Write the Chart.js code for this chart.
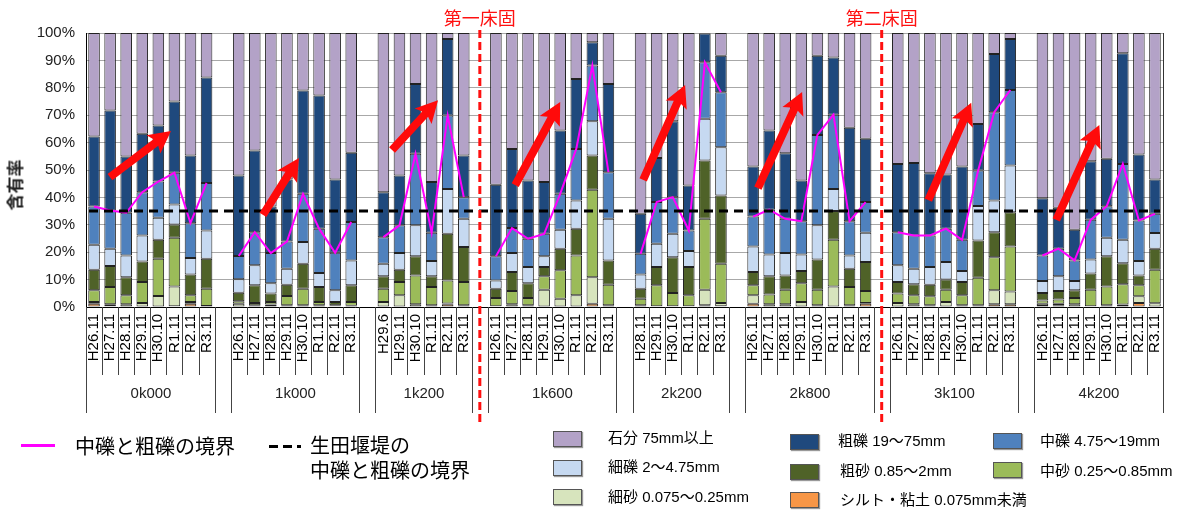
<!DOCTYPE html>
<html><head><meta charset="utf-8">
<script src="https://cdn.jsdelivr.net/npm/chart.js@4.4.1/dist/chart.umd.min.js"></script>
<style>
body{margin:0;background:#fff;}
#wrap{position:relative;width:1191px;height:517px;overflow:hidden;font-family:'Liberation Sans','Noto Sans CJK JP',sans-serif;}
#c{position:absolute;left:0;top:0;}
.t{position:absolute;white-space:nowrap;color:#000;line-height:1;}
.big{font-family:'Noto Sans CJK JP',sans-serif;font-size:20px;}
.sm{font-size:15px;}
.box{position:absolute;width:27px;height:14px;border:1px solid #555;box-shadow:1px 1px 1px #999;}
#ytitle{position:absolute;left:14px;top:185px;transform:translate(-50%,-50%) rotate(-90deg);font-family:'Noto Sans CJK JP',sans-serif;font-size:17px;font-weight:bold;color:#222;white-space:nowrap;}
</style></head><body>
<div id="wrap">
<canvas id="c" width="1191" height="517"></canvas>
<div id="ytitle">含有率</div>
<div style="position:absolute;left:21px;top:444px;width:34px;height:3px;background:#FF00FF"></div>
<div class="t big" style="left:75px;top:436px">中礫と粗礫の境界</div>
<div style="position:absolute;left:269px;top:445px;width:9px;height:3px;background:#000"></div>
<div style="position:absolute;left:283px;top:445px;width:9px;height:3px;background:#000"></div>
<div style="position:absolute;left:297px;top:445px;width:4px;height:3px;background:#000"></div>
<div class="t big" style="left:310px;top:435px">生田堰堤の</div>
<div class="t big" style="left:310px;top:460px">中礫と粗礫の境界</div>
<div id="legend"></div>
</div>
<script>
// ---- categories ----
const groupNames = ['0k000','1k000','1k200','1k600','2k200','2k800','3k100','4k200'];
const surveyDates = [
  ['H26.11','H27.11','H28.11','H29.11','H30.10','R1.11','R2.11','R3.11'],
  ['H26.11','H27.11','H28.11','H29.11','H30.10','R1.11','R2.11','R3.11'],
  ['H29.6','H29.11','H30.10','R1.11','R2.11','R3.11'],
  ['H26.11','H27.11','H28.11','H29.11','H30.10','R1.11','R2.11','R3.11'],
  ['H28.11','H29.11','H30.10','R1.11','R2.11','R3.11'],
  ['H26.11','H27.11','H28.11','H29.11','H30.10','R1.11','R2.11','R3.11'],
  ['H26.11','H27.11','H28.11','H29.11','H30.10','R1.11','R2.11','R3.11'],
  ['H26.11','H27.11','H28.11','H29.11','H30.10','R1.11','R2.11','R3.11']
];
// ---- series values (%), in group order ----
const silt = [1.2,0.3,0,0,0,0.3,1.2,0, 0,0,0,0,0,0,0,0, 0,0,0,0,1.0,0, 0,0,0,0,0,0,1.2,0, 0,0,0,0,0.6,0.3, 1.2,0,0,0,0,0,0,1.2, 0,0,0,0,0,0,1.0,1.0, 0.4,0.6,0.2,0,0,0,1.5,0.2];
const fineSand = [0.6,0.7,1.0,1.5,4.0,7.2,0.6,0.4, 1.2,0.6,0.9,0.6,0.6,0.6,0.3,0.5, 1.8,4.3,1.0,0.6,0.3,0.6, 0.3,1.0,0.6,6.3,3.0,4.3,9.7,0.6, 0.6,0.3,0.3,0.3,5.7,1.2, 3.1,1.0,1.0,1.8,0.6,7.5,0.6,0.3, 1.5,1.0,0.6,1.8,0.6,0.6,5.1,4.7, 0.8,0.6,0.8,0.3,0.6,0.9,2.4,1.2];
const mediumSand = [4.3,6.3,3.3,7.6,13.6,17.8,2.5,6.3, 0.9,0.9,0.9,3.4,6.1,1.2,0.3,1.3, 4.9,4.8,10.5,6.7,8.4,8.5, 3.0,4.8,2.7,4.9,10.4,14.5,31.9,7.5, 2.4,7.6,4.8,4.0,25.9,14.3, 3.6,3.6,5.3,6.9,5.7,17.0,6.7,4.3, 3.4,3.3,3.3,4.5,3.7,10.1,12.1,16.4, 1.2,1.5,2.3,6.0,6.9,7.4,4.0,12.2];
const coarseSand = [7.5,7.7,6.6,7.5,6.9,4.8,7.6,10.9, 3.1,6.4,3.1,4.1,9.1,5.5,1.2,6.1, 4.5,4.5,7.0,3.9,17.0,12.8, 3.4,7.0,5.4,3.4,7.9,9.8,12.5,8.9, 3.7,6.7,13.1,10.3,21.3,24.9, 4.9,6.6,5.2,4.4,11.0,10.5,6.7,10.6, 4.2,4.0,4.2,3.7,4.8,13.6,9.1,12.5, 2.7,3.1,2.8,5.9,11.0,7.7,3.6,7.7];
const fineGravel = [9.1,6.3,7.9,9.5,8.1,7.3,6.0,10.3, 4.9,7.3,3.8,5.9,7.9,5.1,4.3,9.1, 4.6,6.1,11.3,5.6,16.4,10.3, 3.0,6.9,5.9,3.9,6.9,10.3,12.5,15.2, 5.2,8.5,8.5,5.8,15.2,17.6, 9.3,8.0,8.2,6.1,12.5,8.1,4.8,10.7, 6.1,5.7,6.5,6.4,4.0,12.6,11.6,17.0, 4.4,5.4,3.4,5.1,6.8,8.5,5.3,5.7];
const mediumGravel = [14.0,13.9,15.6,15.8,13.2,11.6,12.7,17.4, 8.5,12.1,11.0,9.9,17.6,16.2,13.7,14.0, 9.7,10.1,26.1,10.3,26.8,7.9, 8.8,9.1,10.3,8.2,13.1,18.8,20.3,17.0, 7.5,15.2,13.4,7.5,20.6,20.1, 10.9,16.3,12.5,12.1,33.0,27.1,12.5,11.2, 12.1,12.1,11.5,12.2,11.4,12.9,32.2,27.6, 9.3,10.1,7.5,14.5,11.5,27.7,14.8,7.0];
const coarseGravel = [25.5,36.5,20.5,21.3,20.4,26.0,24.7,38.5, 29.4,29.8,17.0,22.6,37.7,48.6,26.7,25.3, 16.4,18.2,25.5,18.5,27.9,15.2, 26.1,28.9,21.3,18.9,23.1,25.5,8.5,32.2, 14.6,16.1,27.7,16.4,10.5,13.3, 18.3,28.9,23.9,14.9,28.9,20.9,34.1,23.1, 24.9,26.5,22.7,19.8,26.8,17.0,21.2,18.6, 20.9,14.9,11.2,21.4,17.3,40.4,24.1,12.5];
const stone = [37.8,28.3,45.1,36.8,33.8,25.0,44.7,16.2, 52.0,42.9,63.3,53.5,21.0,22.8,53.5,43.7, 58.1,52.0,18.6,54.4,2.2,44.7, 55.4,42.3,53.8,54.4,35.6,16.8,3.4,18.6, 66.0,45.6,32.2,55.7,0.2,8.3, 48.7,35.6,43.9,53.8,8.3,8.9,34.6,38.6, 47.8,47.4,51.2,51.6,48.7,33.2,7.7,2.2, 60.3,63.8,71.8,46.8,45.9,7.4,44.3,53.5];
// boundary between medium and coarse gravel (magenta line)
const boundary = [36.7,35.2,34.4,41.9,45.8,49.0,30.6,45.3, 18.6,27.3,19.7,23.9,41.3,28.6,19.8,31.0, 25.5,29.8,55.9,27.1,69.9,40.1, 18.5,28.8,24.9,26.7,41.3,57.7,88.1,49.2, 19.4,38.3,40.1,27.9,89.3,78.4, 33.0,35.5,32.2,31.3,62.8,70.2,31.3,38.3, 27.3,26.1,26.1,28.6,24.5,49.8,71.1,79.2, 18.8,21.3,17.0,31.8,36.8,52.2,31.6,34.0];
// Ikuta weir reference boundary (%)
const weirBoundary = 35;
// y tick values
const yTicks = [0,10,20,30,40,50,60,70,80,90,100];
// ground sills (placed in the gap after the named group)
const sills = [{label:'第一床固', afterGroup:'1k200'}, {label:'第二床固', afterGroup:'2k800'}];
// trend arrows: [fromCategory, fromValue, toCategory, toValue]
const arrows = [[0.99,47.4,4.79,64.2],[10.51,33.6,12.75,54.4],[18.54,57.3,21.4,75.5],[26.2,44.5,29.0,74.8],[34.16,46.4,36.77,81.0],[41.3,43.4,44.05,78.5],[51.9,39.0,54.57,74.5],[59.86,31.8,62.54,66.4]];

const layers = [
  {label:'シルト・粘土 0.075mm未満', data:silt, color:'#F79646'},
  {label:'細砂 0.075〜0.25mm', data:fineSand, color:'#D7E4BD'},
  {label:'中砂 0.25〜0.85mm', data:mediumSand, color:'#9BBB59'},
  {label:'粗砂 0.85〜2mm', data:coarseSand, color:'#4F6228'},
  {label:'細礫 2〜4.75mm', data:fineGravel, color:'#C6D9F1'},
  {label:'中礫 4.75〜19mm', data:mediumGravel, color:'#4F81BD'},
  {label:'粗礫 19〜75mm', data:coarseGravel, color:'#1F497D'},
  {label:'石分 75mm以上', data:stone, color:'#B3A2C7'}
];

// build categories with one empty slot between groups
const labels = [], idxMap = [], spans = [];
let k = 0;
surveyDates.forEach((dates, g) => {
  const start = labels.length;
  dates.forEach(d => { labels.push(d); idxMap.push(k++); });
  spans.push({name:groupNames[g], start, end:labels.length-1});
  if (g < surveyDates.length-1) { labels.push(''); idxMap.push(-1); }
});
const expand = arr => idxMap.map(i => i < 0 ? null : arr[i]);

// HTML legend
const legendLayout = [
  ['石分 75mm以上',553,431,608,438], ['細礫 2〜4.75mm',553,460,608,467], ['細砂 0.075〜0.25mm',553,489,608,497],
  ['粗礫 19〜75mm',790,434,838,441], ['粗砂 0.85〜2mm',790,464,840,471], ['シルト・粘土 0.075mm未満',790,492,840,500],
  ['中礫 4.75〜19mm',993,433,1040,441], ['中砂 0.25〜0.85mm',993,462,1040,471]
];
const lg = document.getElementById('legend');
legendLayout.forEach(([name,bx,by,tx,ty]) => {
  const L = layers.find(l => l.label === name);
  const b = document.createElement('div'); b.className='box';
  b.style.left=bx+'px'; b.style.top=by+'px'; b.style.background=L.color; lg.appendChild(b);
  const t = document.createElement('div'); t.className='t sm';
  t.style.left=tx+'px'; t.style.top=(ty-8)+'px'; t.textContent=name; lg.appendChild(t);
});

function drawArrow(ctx,x0,y0,x1,y1){
  const ang=Math.atan2(y1-y0,x1-x0), L=Math.hypot(x1-x0,y1-y0);
  const hl=19, hw=11.5, sw=4;
  ctx.save(); ctx.translate(x0,y0); ctx.rotate(ang);
  ctx.beginPath(); ctx.moveTo(0,-sw); ctx.lineTo(L-hl,-sw); ctx.lineTo(L-hl-3,-hw); ctx.lineTo(L,0);
  ctx.lineTo(L-hl-3,hw); ctx.lineTo(L-hl,sw); ctx.lineTo(0,sw); ctx.closePath();
  ctx.fillStyle='#FF0A0A'; ctx.fill(); ctx.restore();
}

const extras = {
  id:'extras',
  afterDatasetsDraw(chart){
    const {ctx, chartArea:a, scales:{x,y}} = chart;
    ctx.save();
    // right border of plot
    ctx.strokeStyle='#333'; ctx.lineWidth=1;
    ctx.beginPath(); ctx.moveTo(Math.round(a.right)+0.5,a.top); ctx.lineTo(Math.round(a.right)+0.5,a.bottom); ctx.stroke();
    // weir reference dashed line
    const yy = y.getPixelForValue(weirBoundary);
    ctx.strokeStyle='#000'; ctx.lineWidth=3; ctx.setLineDash([9,6]);
    ctx.beginPath(); ctx.moveTo(a.left+3,yy); ctx.lineTo(a.right-3,yy); ctx.stroke();
    ctx.setLineDash([]);
    arrows.forEach(([c0,v0,c1,v1]) => drawArrow(ctx,x.getPixelForValue(c0),y.getPixelForValue(v0),x.getPixelForValue(c1),y.getPixelForValue(v1)));
    ctx.restore();
  },
  afterDraw(chart){
    const {ctx, chartArea:a, scales:{x}} = chart;
    const slot = x.getPixelForValue(1)-x.getPixelForValue(0);
    const edge = i => Math.round(x.getPixelForValue(i)-slot/2)+0.5;
    ctx.save();
    ctx.strokeStyle='#444'; ctx.lineWidth=1;
    spans.forEach(s => {
      for (let i=s.start+1;i<=s.end;i++){ ctx.beginPath(); ctx.moveTo(edge(i),a.bottom); ctx.lineTo(edge(i),a.bottom+68); ctx.stroke(); }
      [edge(s.start), edge(s.end+1)].forEach(px => { ctx.beginPath(); ctx.moveTo(px,a.bottom); ctx.lineTo(px,a.bottom+106); ctx.stroke(); });
      ctx.fillStyle='#222'; ctx.font='15px "Liberation Sans"'; ctx.textAlign='center'; ctx.textBaseline='middle';
      ctx.fillText(s.name,(edge(s.start)+edge(s.end+1))/2,a.bottom+87);
    });
    sills.forEach(sl => {
      const sp = spans.find(s => s.name===sl.afterGroup);
      const px = x.getPixelForValue(sp.end+1);
      ctx.strokeStyle='#FF1010'; ctx.lineWidth=3; ctx.setLineDash([8,4]);
      ctx.beginPath(); ctx.moveTo(px,a.top-3); ctx.lineTo(px,a.bottom+118); ctx.stroke();
      ctx.setLineDash([]);
      ctx.fillStyle='#FF1010'; ctx.font='18px "Noto Sans CJK JP"'; ctx.textAlign='center'; ctx.textBaseline='middle';
      ctx.fillText(sl.label,px,a.top-15);
    });
    ctx.restore();
  }
};

const datasets = [
  {type:'line', label:'中礫と粗礫の境界', data:expand(boundary), borderColor:'#FF00FF', borderWidth:2, pointRadius:0, spanGaps:false, tension:0, fill:false, order:0, stack:'line'}
].concat(layers.map(l => ({type:'bar', label:l.label, data:expand(l.data), backgroundColor:l.color, borderColor:'#222', borderWidth:1, borderSkipped:false, order:1, stack:'grain', barPercentage:0.72, categoryPercentage:1})));

new Chart(document.getElementById('c'), {
  data:{labels, datasets},
  plugins:[extras],
  options:{
    responsive:false, animation:false, devicePixelRatio:1,
    layout:{padding:{top:33,right:28,bottom:100,left:0}},
    plugins:{legend:{display:false}, tooltip:{enabled:false}},
    scales:{
      x:{stacked:true, grid:{display:false, drawTicks:false}, border:{display:true,color:'#000',width:1},
         ticks:{autoSkip:false, minRotation:90, maxRotation:90, padding:7, color:'#000', font:{family:'Liberation Sans', size:15}},
         afterFit(s){ s.height = 110; }},
      y:{stacked:true, min:0, max:100, grid:{color:'#a8a8a8', drawTicks:false}, border:{display:true,color:'#000',width:1},
         afterBuildTicks(s){ s.ticks = yTicks.map(v => ({value:v})); },
         ticks:{padding:11, color:'#222', callback:v => v+'%', font:{family:'Liberation Sans', size:15}},
         afterFit(s){ s.width = 86; }}
    }
  }
});
</script>
</body></html>
